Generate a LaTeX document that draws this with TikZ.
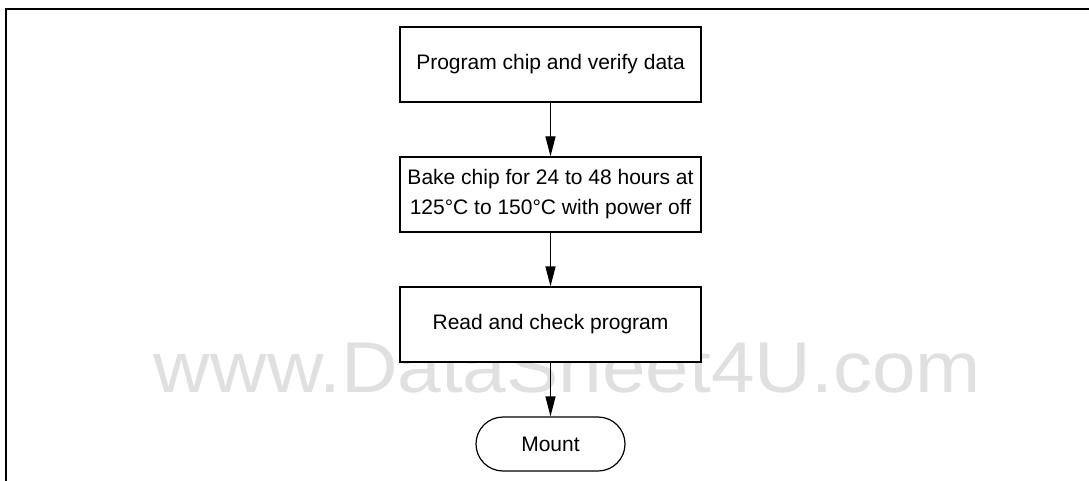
\documentclass[tikz,border=0pt]{standalone}
\usepackage{fontspec}
\setmainfont{Liberation Sans}
\usetikzlibrary{arrows.meta}
\definecolor{wmgray}{HTML}{E0E0E0}
\begin{document}
\begin{tikzpicture}[x=1pt,y=1pt,
  stepbox/.style={draw, line width=1.2pt, fill=white, minimum width=301pt, minimum height=75pt, inner sep=0pt, font=\fontsize{21}{30}\selectfont, align=center},
  endbox/.style={draw, line width=1.2pt, fill=white, rounded corners=27pt, minimum width=149pt, minimum height=54pt, inner sep=0pt, font=\fontsize{21}{30}\selectfont},
  flow/.style={line width=1.2pt, -{Triangle[length=20pt,width=10pt]}},
  framel/.style={line width=1.8pt},
  wmtext/.style={text=wmgray, font=\fontsize{72}{72}\selectfont, inner sep=0pt, anchor=base, xscale=1.088}
]
\useasboundingbox (0,0) rectangle (1089,-481);
\draw[framel] (6,-481) -- (6,-9) -- (1089,-9);
\node[wmtext] (wm) at (567.5,-392) {www.DataSheet4U.com};
\node[stepbox] (prog) at (550.5,-64.5) {Program chip and verify data};
\node[stepbox] (bake) at (550.5,-194.5) {Bake chip for 24 to 48 hours at\\125°C to 150°C with power off};
\node[stepbox] (read) at (550.5,-324.5) {Read and check program};
\node[endbox] (mount) at (550.5,-444) {Mount};
\draw[flow] (prog) -- (bake);
\draw[flow] (bake) -- (read);
\draw[flow] (read) -- (mount);
\end{tikzpicture}
\end{document}
